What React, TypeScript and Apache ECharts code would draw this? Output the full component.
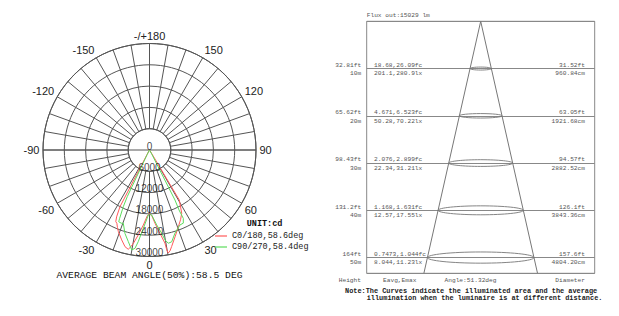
import React, { useEffect, useRef } from 'react';
import * as echarts from 'echarts';

// ---- Polar (luminous intensity) data ----
const angleLabelValues = [-180, -150, -120, -90, -60, -30, 0, 30, 60, 90, 120, 150, 180];
const angleLabelTexts = ['-/+180', '-150', '-120', '-90', '-60', '-30', '0', '30', '60', '90', '120', '150', '-/+180'];
const radiusTicks = [0, 6000, 12000, 18000, 24000, 30000];

const c0Name = 'C0/180,58.6deg';
const c0Angles = [-90, -45, -35, -31, -28.5, -27.5, -26.2, -25.2, -24, -22.5, -20.9, -17.2, -14.2, -12.1, -11, -9.8, -7.5, -4.7, -2, 0, 2, 4.3, 7.2, 9.4, 9.8, 10.3, 11.5, 12.9, 16.4, 20.6, 24, 27, 30.8, 31.5, 33, 35, 45, 90];
const c0Values = [0, 0, 60, 300, 1500, 18000, 21000, 22300, 22600, 23600, 24600, 26500, 28100, 28600, 27800, 26700, 24100, 21200, 18600, 17900, 18500, 20700, 23700, 26600, 28500, 29500, 29000, 27900, 25500, 23100, 21500, 20000, 16400, 2000, 300, 60, 0, 0];

const c90Name = 'C90/270,58.4deg';
const c90Angles = [-90, -40, -30, -27, -25.5, -24.8, -23.6, -23.2, -21, -19.7, -16.4, -13, -10.1, -8.4, -7, -4.5, -1, 0, 1.9, 5.5, 8.3, 9.8, 11.4, 13.6, 17, 22.1, 24.8, 26.3, 26.2, 27, 28.5, 30, 40, 90];
const c90Values = [0, 0, 200, 1500, 14500, 17600, 21000, 22000, 22100, 21900, 24500, 26500, 28600, 28000, 26000, 22100, 18300, 18200, 18300, 21200, 23700, 25700, 26800, 26600, 24500, 22800, 22700, 21500, 18800, 15800, 1500, 200, 0, 0];

// ---- Illuminance diagram data ----
const flux = 'Flux out:15029 lm';
const distancesM = [10, 20, 30, 40, 50];
const distancesFt = ['32.81ft', '65.62ft', '98.43ft', '131.2ft', '164ft'];
const illumFc = ['18.68,26.09fc', '4.671,6.523fc', '2.076,2.899fc', '1.168,1.631fc', '0.7473,1.044fc'];
const illumLx = ['201.1,280.9lx', '50.28,70.22lx', '22.34,31.21lx', '12.57,17.55lx', '8.044,11.23lx'];
const diameterFt = ['31.52ft', '63.05ft', '94.57ft', '126.1ft', '157.6ft'];
const diameterCm = [960.84, 1921.68, 2882.52, 3843.36, 4804.2];
const footerLabels = ['Height', 'Eavg,Emax', 'Angle:51.32deg', 'Diameter'];
const noteLines = [
  'Note:The Curves indicate the illuminated area and the average',
  'illumination when the luminaire is at different distance.',
];

const RED = '#ff5a5a';
const GREEN = '#5cdc5c';
const GRID = '#555';
const RGRAY = '#888';
const TGRAY = '#555';
const MONO = '"Liberation Mono", "DejaVu Sans Mono", monospace';
const SANS = '"Liberation Sans", Arial, sans-serif';

const CX = 149.5;
const CY = 150;
const R = 106.5;
const R0 = R * (6000 / 30000);

const X_HALF = 51.4;
const Y_MAX = 53.33;

export default function App() {
  const ref = useRef<HTMLDivElement>(null);
  useEffect(() => {
    if (!ref.current) return;
    const chart = echarts.init(ref.current, undefined, { renderer: 'svg' });

    const angleLabelMap: Record<string, string> = {};
    angleLabelValues.forEach((v, i) => (angleLabelMap[String(v)] = angleLabelTexts[i]));

    const coneHalf = diameterCm[diameterCm.length - 1] / 100 / 2 / distancesM[distancesM.length - 1];

    const option: any = {
      animation: false,
      backgroundColor: '#fff',
      legend: {
        data: [c0Name, c90Name],
        orient: 'vertical',
        left: 215,
        top: 231,
        icon: 'rect',
        itemWidth: 12,
        itemHeight: 1.2,
        itemGap: 1,
        padding: 0,
        textStyle: { fontFamily: MONO, fontSize: 8.5, color: '#222', lineHeight: 10 },
      },
      polar: [
        { center: [CX, CY], radius: [R0, R] },
        { center: [CX, CY], radius: [0, R] },
      ],
      angleAxis: [
        {
          polarIndex: 0,
          type: 'value',
          min: -180,
          max: 180,
          interval: 10,
          startAngle: 90,
          clockwise: false,
          axisLine: { show: true, lineStyle: { color: GRID, width: 1 } },
          axisTick: { show: false },
          splitLine: { show: true, lineStyle: { color: GRID, width: 1 } },
          axisLabel: {
            show: true,
            interval: 0,
            margin: 3.5,
            fontSize: 11,
            lineHeight: 9,
            fontFamily: SANS,
            color: '#222',
            formatter: (v: number) => angleLabelMap[String(v)] ?? '',
          },
        },
        {
          polarIndex: 1,
          type: 'value',
          min: -180,
          max: 180,
          startAngle: 90,
          clockwise: false,
          show: false,
        },
      ],
      radiusAxis: [
        {
          polarIndex: 0,
          type: 'value',
          min: 6000,
          max: 30000,
          interval: 6000,
          axisLine: { show: false },
          axisTick: { show: false },
          axisLabel: { show: false },
          splitLine: { show: true, lineStyle: { color: GRID, width: 1 } },
        },
        { polarIndex: 1, type: 'value', min: 0, max: 30000, show: false },
      ],
      grid: {
        left: 366.7,
        top: 21.3,
        width: 228,
        height: 252,
        show: true,
        borderColor: RGRAY,
        borderWidth: 1,
        backgroundColor: 'transparent',
      },
      xAxis: { type: 'value', min: -X_HALF, max: X_HALF, show: false },
      yAxis: {
        type: 'value',
        min: 0,
        max: Y_MAX,
        interval: 10,
        inverse: true,
        axisLine: { show: false },
        axisTick: { show: false },
        axisLabel: { show: false },
        splitLine: { show: true, lineStyle: { color: RGRAY, width: 1 } },
      },
      series: [
        {
          name: 'axis90',
          type: 'line',
          coordinateSystem: 'polar',
          polarIndex: 1,
          data: [[30000, -90], [0, 0], [30000, 90]],
          symbol: 'none',
          silent: true,
          lineStyle: { color: GRID, width: 1 },
          z: 1,
        },
        {
          name: c0Name,
          type: 'line',
          coordinateSystem: 'polar',
          polarIndex: 1,
          data: c0Angles.map((a, i) => [c0Values[i], a]),
          symbol: 'none',
          lineStyle: { color: RED, width: 1 },
          itemStyle: { color: RED },
          z: 3,
        },
        {
          name: c90Name,
          type: 'line',
          coordinateSystem: 'polar',
          polarIndex: 1,
          data: c90Angles.map((a, i) => [c90Values[i], a]),
          symbol: 'none',
          lineStyle: { color: GREEN, width: 1 },
          itemStyle: { color: GREEN },
          z: 3,
        },
        {
          name: 'rlabels',
          type: 'scatter',
          coordinateSystem: 'polar',
          polarIndex: 1,
          data: radiusTicks.map((v) => [v, 0]),
          symbolSize: 1,
          itemStyle: { color: 'rgba(0,0,0,0)' },
          silent: true,
          z: 5,
          label: {
            show: true,
            position: 'inside',
            offset: [0, -4],
            fontFamily: SANS,
            fontSize: 10,
            color: '#111',
            formatter: (p: any) => String(p.value[0]),
          },
        },
        {
          name: 'cone',
          type: 'line',
          xAxisIndex: 0,
          yAxisIndex: 0,
          data: [[-coneHalf * Y_MAX, Y_MAX], [0, 0], [coneHalf * Y_MAX, Y_MAX]],
          symbol: 'none',
          silent: true,
          lineStyle: { color: '#777', width: 1 },
        },
        {
          name: 'ellipses',
          type: 'custom',
          xAxisIndex: 0,
          yAxisIndex: 0,
          silent: true,
          data: distancesM.map((d, i) => [0, d, diameterCm[i] / 100]),
          renderItem: (params: any, api: any) => {
            const d = api.value(1);
            const D = api.value(2);
            const c = api.coord([0, d]);
            const e = api.coord([D / 2, d]);
            const rx = e[0] - c[0];
            return {
              type: 'ellipse',
              shape: { cx: c[0], cy: c[1], rx, ry: Math.max(1.5, rx * 0.105) },
              style: { fill: 'none', stroke: '#777', lineWidth: 0.9 },
            };
          },
        },
        {
          name: 'dlabels',
          type: 'custom',
          xAxisIndex: 0,
          yAxisIndex: 0,
          silent: true,
          clip: false,
          data: distancesM.map((d, i) => [i, d]),
          renderItem: (params: any, api: any) => {
            const i = api.value(0);
            const d = api.value(1);
            const pl = api.coord([-X_HALF, d]);
            const pr = api.coord([X_HALF, d]);
            const y = pl[1];
            const txt = (text: string, x: number, yy: number, align: string) => ({
              type: 'text',
              style: {
                text,
                x,
                y: yy,
                align,
                verticalAlign: 'middle',
                fill: TGRAY,
                fontSize: 6.2,
                fontFamily: MONO,
              },
            });
            return {
              type: 'group',
              children: [
                txt(distancesFt[i], pl[0] - 5.5, y - 3.3, 'right'),
                txt(`${d}m`, pl[0] - 5.5, y + 5.4, 'right'),
                txt(illumFc[i], pl[0] + 7.3, y - 3.3, 'left'),
                txt(illumLx[i], pl[0] + 7.3, y + 5.4, 'left'),
                txt(diameterFt[i], pr[0] - 9.7, y - 3.3, 'right'),
                txt(`${diameterCm[i].toFixed(2)}cm`, pr[0] - 9.7, y + 5.4, 'right'),
              ],
            };
          },
        },
      ],
      graphic: [
        {
          type: 'text',
          x: 246.7,
          y: 224.3,
          style: {
            text: 'UNIT:cd',
            fontFamily: MONO,
            fontWeight: 'bold',
            fontSize: 8.5,
            fill: '#111',
            verticalAlign: 'middle',
          },
        },
        {
          type: 'text',
          x: CX,
          y: 275.4,
          style: {
            text: 'AVERAGE BEAM ANGLE(50%):58.5 DEG',
            fontFamily: MONO,
            fontSize: 9.7,
            lineHeight: 8,
            fill: '#111',
            align: 'center',
            verticalAlign: 'middle',
          },
        },
        {
          type: 'text',
          x: 366.7,
          y: 15,
          style: { text: flux, fontFamily: MONO, fontSize: 6.2, fill: TGRAY, verticalAlign: 'middle' },
        },
        {
          type: 'text',
          x: 361,
          y: 280,
          style: { text: footerLabels[0], fontFamily: MONO, fontSize: 6.2, fill: TGRAY, align: 'right', verticalAlign: 'middle' },
        },
        {
          type: 'text',
          x: 399.7,
          y: 280,
          style: { text: footerLabels[1], fontFamily: MONO, fontSize: 6.2, fill: TGRAY, align: 'center', verticalAlign: 'middle' },
        },
        {
          type: 'text',
          x: 470.5,
          y: 280,
          style: { text: footerLabels[2], fontFamily: MONO, fontSize: 6.2, fill: TGRAY, align: 'center', verticalAlign: 'middle' },
        },
        {
          type: 'text',
          x: 585,
          y: 280,
          style: { text: footerLabels[3], fontFamily: MONO, fontSize: 6.2, fill: TGRAY, align: 'right', verticalAlign: 'middle' },
        },
        {
          type: 'text',
          x: 345,
          y: 291.2,
          style: { text: noteLines[0], fontFamily: MONO, fontWeight: 'bold', fontSize: 6.9, lineHeight: 6, fill: '#222', verticalAlign: 'middle' },
        },
        {
          type: 'text',
          x: 366.7,
          y: 298.4,
          style: { text: noteLines[1], fontFamily: MONO, fontWeight: 'bold', fontSize: 6.9, lineHeight: 6, fill: '#222', verticalAlign: 'middle' },
        },
      ],
    };

    chart.setOption(option);
    return () => chart.dispose();
  }, []);

  return (
    <div
      ref={ref}
      style={{ position: 'fixed', left: 0, top: 0, width: 619, height: 316, background: '#fff' }}
    />
  );
}
